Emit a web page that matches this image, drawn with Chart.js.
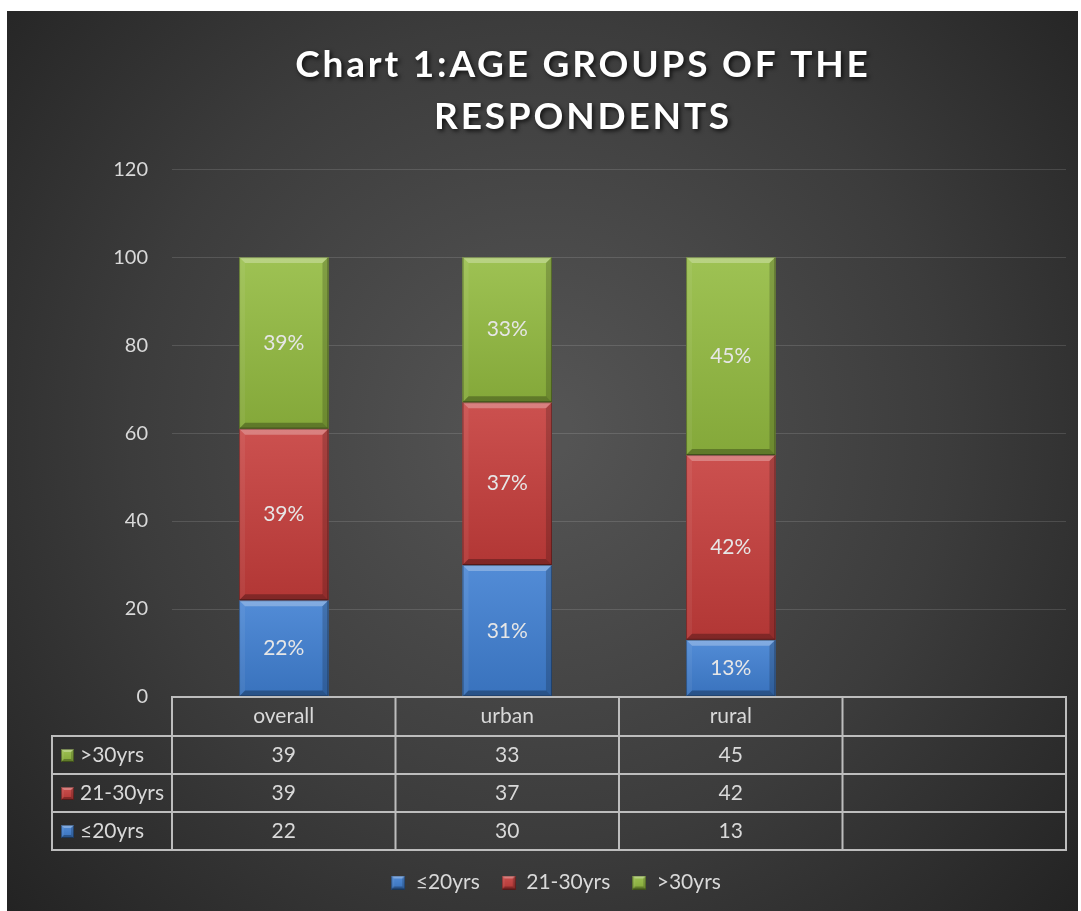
<!DOCTYPE html>
<html>
<head>
<meta charset="utf-8">
<script src="https://cdn.jsdelivr.net/npm/chart.js@4.4.1/dist/chart.umd.min.js"></script>
<style>
  html, body { margin: 0; padding: 0; background: #ffffff; }
  #wrap { position: absolute; left: 0; top: 0; width: 1081px; height: 911px; }
</style>
</head>
<body>
<div id="wrap"><canvas id="ageChart"></canvas></div>
<script>
// Chart data
const categories = ['overall', 'urban', 'rural', ''];
const seriesNames = ['≤20yrs', '21-30yrs', '>30yrs'];
const upTo20 = [22, 30, 13, null];
const from21to30 = [39, 37, 42, null];
const over30 = [39, 33, 45, null];
// labels printed inside the bars (as shown on the original)
const upTo20Labels = ['22%', '31%', '13%', ''];
const from21to30Labels = ['39%', '37%', '42%', ''];
const over30Labels = ['39%', '33%', '45%', ''];
const yTicks = [0, 20, 40, 60, 80, 100, 120];
const titleLines = ['Chart 1:AGE GROUPS OF THE', 'RESPONDENTS'];

const FONT = 'Lato, "Open Sans", sans-serif';
const TEXT = '#d9d9d9';
const colors = ['#3f7fd2', '#c63d3b', '#93bb40'];
const TITLE_SIZE = 37, TITLE_LH = 1.38, TITLE_PAD_TOP = 40;

// dark panel with soft radial light
const bgPlugin = {
  id: 'bgPanel',
  beforeDraw(chart) {
    const ctx = chart.ctx;
    ctx.save();
    const g = ctx.createRadialGradient(540, 430, 30, 540, 430, 720);
    g.addColorStop(0, '#545454');
    g.addColorStop(0.55, '#3c3c3c');
    g.addColorStop(1, '#232323');
    ctx.fillStyle = g;
    ctx.fillRect(7, 11, 1071, 900);
    ctx.restore();
  }
};

// bevelled box like the Excel preset
function bevelBox(ctx, l, t, r, b, color, bv) {
  ctx.save();
  ctx.fillStyle = color;
  ctx.fillRect(l, t, r - l, b - t);
  const lg = ctx.createLinearGradient(0, t, 0, b);
  lg.addColorStop(0, 'rgba(255,255,255,0.10)');
  lg.addColorStop(1, 'rgba(0,0,0,0.10)');
  ctx.fillStyle = lg;
  ctx.fillRect(l, t, r - l, b - t);
  const poly = (pts, fill) => {
    ctx.beginPath();
    ctx.moveTo(pts[0][0], pts[0][1]);
    for (let i = 1; i < pts.length; i++) ctx.lineTo(pts[i][0], pts[i][1]);
    ctx.closePath();
    ctx.fillStyle = fill;
    ctx.fill();
  };
  poly([[l, t], [r, t], [r - bv, t + bv], [l + bv, t + bv]], 'rgba(255,255,255,0.28)');
  poly([[l, t], [l + bv, t + bv], [l + bv, b - bv], [l, b]], 'rgba(255,255,255,0.06)');
  poly([[r, t], [r, b], [r - bv, b - bv], [r - bv, t + bv]], 'rgba(0,0,0,0.18)');
  poly([[l, b], [r, b], [r - bv, b - bv], [l + bv, b - bv]], 'rgba(0,0,0,0.28)');
  ctx.strokeStyle = 'rgba(0,0,0,0.35)';
  ctx.lineWidth = 1;
  ctx.strokeRect(l + 0.5, t + 0.5, r - l - 1, b - t - 1);
  ctx.restore();
}

// small bevel squares for the legend
const legendIcons = colors.map(c => {
  const cv = document.createElement('canvas');
  cv.width = 14; cv.height = 14;
  bevelBox(cv.getContext('2d'), 0, 0, 14, 14, c, 3);
  return cv;
});

const barPlugin = {
  id: 'barLook',
  afterDatasetsDraw(chart) {
    const ctx = chart.ctx;
    chart.data.datasets.forEach((ds, di) => {
      const meta = chart.getDatasetMeta(di);
      meta.data.forEach((bar, i) => {
        if (ds.data[i] == null) return;
        const p = bar.getProps(['x', 'y', 'base', 'width'], true);
        const l = p.x - p.width / 2, r = p.x + p.width / 2;
        const t = Math.min(p.y, p.base), b = Math.max(p.y, p.base);
        bevelBox(ctx, l, t, r, b, colors[di], 6);
        ctx.save();
        ctx.fillStyle = '#e6e6e6';
        ctx.font = '21px ' + FONT;
        ctx.textAlign = 'center';
        ctx.textBaseline = 'middle';
        ctx.fillText(ds.valueLabels[i], p.x, (t + b) / 2);
        ctx.restore();
      });
    });
  }
};

// spaced-out title with a soft shadow, drawn into the space the title box reserves
const titlePlugin = {
  id: 'spacedTitle',
  afterDraw(chart) {
    const ctx = chart.ctx;
    const tb = chart.titleBlock;
    const lh = TITLE_SIZE * TITLE_LH;
    ctx.save();
    ctx.font = 'bold ' + TITLE_SIZE + 'px ' + FONT;
    ctx.letterSpacing = '2.8px';
    ctx.textAlign = 'center';
    ctx.textBaseline = 'middle';
    ctx.fillStyle = '#ffffff';
    ctx.shadowColor = 'rgba(0,0,0,0.75)';
    ctx.shadowBlur = 4;
    ctx.shadowOffsetX = 2;
    ctx.shadowOffsetY = 2;
    titleLines.forEach((line, k) => {
      ctx.fillText(line, 583, tb.top + TITLE_PAD_TOP + lh / 2 + lh * k);
    });
    ctx.restore();
  }
};

// data table under the plot, built from the same arrays
const tablePlugin = {
  id: 'dataTable',
  afterDraw(chart) {
    const ctx = chart.ctx;
    const xs = chart.scales.x;
    const area = chart.chartArea;
    const n = categories.length;
    const edges = [];
    for (let i = 0; i <= n; i++) edges.push(xs.getPixelForValue(i - 0.5));
    edges[0] = area.left; edges[n] = area.right;
    const top = area.bottom;
    const headH = 39, rowH = 38;
    const leftX = 52;
    const rows = [2, 1, 0];
    const bottom = top + headH + rowH * rows.length;

    ctx.save();
    ctx.strokeStyle = '#bdbdbd';
    ctx.lineWidth = 2;
    ctx.strokeRect(area.left, top, area.right - area.left, headH);
    for (let k = 0; k < rows.length; k++) {
      ctx.strokeRect(leftX, top + headH + rowH * k, area.right - leftX, rowH);
    }
    ctx.beginPath();
    for (let i = 0; i <= n; i++) {
      ctx.moveTo(edges[i], top);
      ctx.lineTo(edges[i], bottom);
    }
    ctx.stroke();

    ctx.fillStyle = TEXT;
    ctx.font = '21px ' + FONT;
    ctx.textBaseline = 'middle';
    ctx.textAlign = 'center';
    for (let i = 0; i < n; i++) {
      ctx.fillText(categories[i], (edges[i] + edges[i + 1]) / 2, top + headH / 2);
    }
    rows.forEach((di, k) => {
      const ds = chart.data.datasets[di];
      const cy = top + headH + rowH * k + rowH / 2;
      for (let i = 0; i < n; i++) {
        if (ds.data[i] == null) continue;
        ctx.textAlign = 'center';
        ctx.fillStyle = TEXT;
        ctx.fillText(String(ds.data[i]), (edges[i] + edges[i + 1]) / 2, cy);
      }
      bevelBox(ctx, 61, cy - 6, 74, cy + 7, colors[di], 3);
      ctx.textAlign = 'left';
      ctx.fillStyle = TEXT;
      ctx.fillText(ds.label, 80, cy);
    });
    ctx.restore();
  }
};

new Chart(document.getElementById('ageChart'), {
  type: 'bar',
  data: {
    labels: categories,
    datasets: [
      { label: seriesNames[0], data: upTo20, valueLabels: upTo20Labels, backgroundColor: colors[0] },
      { label: seriesNames[1], data: from21to30, valueLabels: from21to30Labels, backgroundColor: colors[1] },
      { label: seriesNames[2], data: over30, valueLabels: over30Labels, backgroundColor: colors[2] }
    ]
  },
  options: {
    responsive: true,
    maintainAspectRatio: false,
    animation: false,
    devicePixelRatio: 1,
    layout: { padding: { top: 0, right: 15, bottom: 8, left: 46 } },
    datasets: { bar: { barPercentage: 0.4, categoryPercentage: 1, borderWidth: 0 } },
    plugins: {
      title: {
        display: true,
        text: titleLines,
        color: 'rgba(0,0,0,0)',
        font: { family: FONT, size: TITLE_SIZE, weight: 'bold', lineHeight: TITLE_LH },
        padding: { top: TITLE_PAD_TOP, bottom: 27 }
      },
      legend: {
        position: 'bottom',
        labels: {
          color: TEXT,
          font: { family: FONT, size: 21 },
          boxWidth: 14,
          boxHeight: 14,
          padding: 22,
          usePointStyle: true,
          generateLabels(chart) {
            return chart.data.datasets.map((ds, i) => ({
              text: ds.label,
              pointStyle: legendIcons[i],
              fillStyle: colors[i],
              strokeStyle: colors[i],
              lineWidth: 0,
              fontColor: TEXT,
              hidden: false,
              datasetIndex: i
            }));
          }
        }
      },
      tooltip: { enabled: false }
    },
    scales: {
      x: {
        stacked: true,
        grid: { display: false },
        border: { display: false },
        ticks: { display: false },
        afterFit(scale) { scale.height = 153; }
      },
      y: {
        stacked: true,
        min: 0,
        max: 120,
        afterBuildTicks(scale) { scale.ticks = yTicks.map(v => ({ value: v })); },
        afterFit(scale) { scale.width = 126; },
        grid: { color: 'rgba(255,255,255,0.13)', drawTicks: false, lineWidth: 1 },
        border: { display: false },
        ticks: { color: TEXT, font: { family: FONT, size: 20 }, padding: 24 }
      }
    }
  },
  plugins: [bgPlugin, barPlugin, tablePlugin, titlePlugin]
});
</script>
</body>
</html>
